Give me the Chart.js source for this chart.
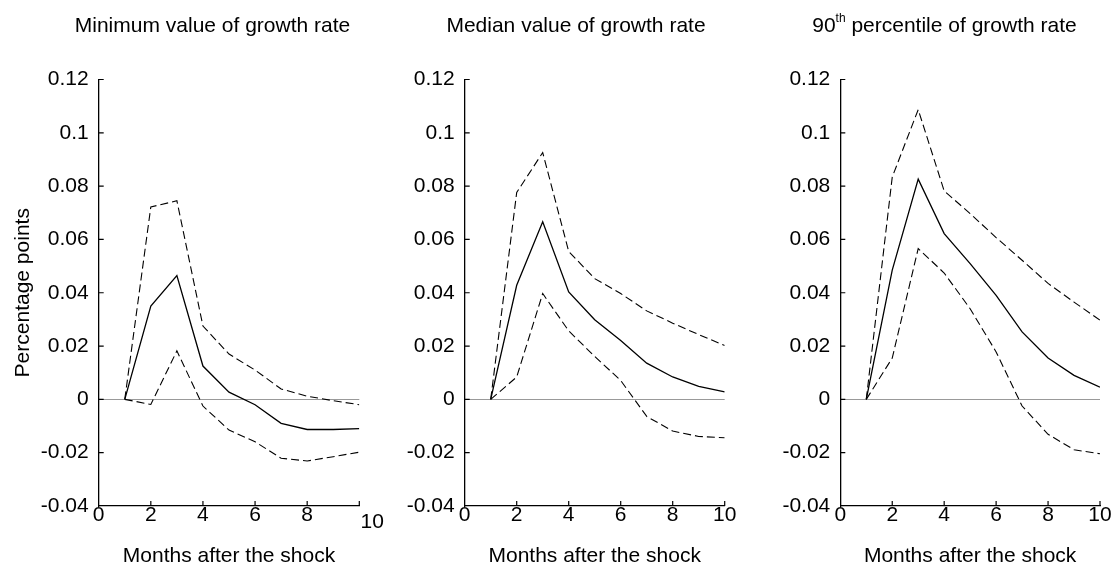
<!DOCTYPE html>
<html>
<head>
<meta charset="utf-8">
<script src="https://cdn.jsdelivr.net/npm/chart.js@4.4.1/dist/chart.umd.min.js"></script>
<style>
  html, body { margin: 0; padding: 0; background: #fff; }
  body { width: 1115px; height: 564px; position: relative; overflow: hidden; }
  .panel { position: absolute; top: 0; height: 564px; }
</style>
</head>
<body>
<div class="panel" style="left:0;width:392px"><canvas id="c1"></canvas></div>
<div class="panel" style="left:372px;width:372px"><canvas id="c2"></canvas></div>
<div class="panel" style="left:744px;width:371px"><canvas id="c3"></canvas></div>
<script>
// months after the shock and axis ticks
const months = [1, 2, 3, 4, 5, 6, 7, 8, 9, 10];
const xTicks = [0, 2, 4, 6, 8, 10];
const yTicks = [-0.04, -0.02, 0, 0.02, 0.04, 0.06, 0.08, 0.1, 0.12];
const yTickLabels = ['-0.04', '-0.02', '0', '0.02', '0.04', '0.06', '0.08', '0.1', '0.12'];

// Minimum value of growth rate
const minMid   = [0, 0.0350, 0.0464, 0.0125, 0.0027, -0.0020, -0.0090, -0.0113, -0.0113, -0.0110];
const minUpper = [0, 0.0722, 0.0745, 0.0275, 0.0170, 0.0110, 0.0039, 0.0012, -0.0005, -0.0020];
const minLower = [0, -0.0019, 0.0182, -0.0025, -0.0115, -0.0159, -0.0221, -0.0231, -0.0215, -0.0198];

// Median value of growth rate
const medMid   = [0, 0.0428, 0.0666, 0.0403, 0.0299, 0.0221, 0.0136, 0.0084, 0.0049, 0.0028];
const medUpper = [0, 0.0776, 0.0926, 0.0555, 0.0453, 0.0397, 0.0332, 0.0286, 0.0243, 0.0202];
const medLower = [0, 0.0084, 0.0397, 0.0257, 0.0161, 0.0071, -0.0064, -0.0119, -0.0139, -0.0144];

// 90th percentile of growth rate
const p90Mid   = [0, 0.0485, 0.0826, 0.0622, 0.0509, 0.0390, 0.0253, 0.0155, 0.0090, 0.0046];
const p90Upper = [0, 0.0834, 0.1087, 0.0782, 0.0697, 0.0607, 0.0522, 0.0435, 0.0365, 0.0297];
const p90Lower = [0, 0.0155, 0.0566, 0.0474, 0.0340, 0.0178, -0.0025, -0.0131, -0.0189, -0.0204];

const FONT = '"Liberation Sans", Arial, Helvetica, sans-serif';
Chart.defaults.font.family = FONT;
Chart.defaults.color = '#000';

// ticks drawn on the inside of the axes, plus a nudged last x label when asked
const innerTicks = {
  id: 'innerTicks',
  afterDraw(chart, args, o) {
    const {ctx, chartArea: a, scales: {x, y}} = chart;
    ctx.save();
    ctx.strokeStyle = '#000';
    ctx.lineWidth = 1.2;
    ctx.beginPath();
    x.ticks.forEach(t => {
      if (t.value === xTicks[0]) return;
      const px = x.getPixelForValue(t.value);
      ctx.moveTo(px, a.bottom);
      ctx.lineTo(px, a.bottom - 5);
    });
    y.ticks.forEach(t => {
      if (t.value === yTicks[0]) return;
      const py = y.getPixelForValue(t.value);
      ctx.moveTo(a.left, py);
      ctx.lineTo(a.left + 5, py);
    });
    ctx.stroke();
    if (o.lastShift) {
      const last = xTicks[xTicks.length - 1];
      ctx.font = '21px ' + FONT;
      ctx.fillStyle = '#000';
      ctx.textAlign = 'center';
      ctx.textBaseline = 'middle';
      ctx.fillText(String(last), x.getPixelForValue(last) + o.lastShift.dx, a.bottom + 9 + o.lastShift.dy);
    }
    ctx.restore();
  }
};

// panel title, with optional superscript pieces
const panelTitle = {
  id: 'panelTitle',
  afterDraw(chart, args, o) {
    if (!o.parts) return;
    const {ctx, chartArea: a} = chart;
    ctx.save();
    ctx.fillStyle = '#000';
    ctx.textBaseline = 'alphabetic';
    const big = '21px ' + FONT, small = '12px ' + FONT;
    let total = 0;
    const widths = o.parts.map(p => {
      ctx.font = p.sup ? small : big;
      const w = ctx.measureText(p.text).width;
      total += w;
      return w;
    });
    let x = (a.left + a.right) / 2 + o.shift - total / 2;
    o.parts.forEach((p, i) => {
      ctx.font = p.sup ? small : big;
      ctx.fillText(p.text, x, p.sup ? o.baseline - 10 : o.baseline);
      x += widths[i];
    });
    ctx.restore();
  }
};

function series(vals, dashed) {
  return {
    data: months.map((m, i) => ({x: m, y: vals[i]})),
    borderColor: '#000',
    borderWidth: dashed ? 1.1 : 1.3,
    borderDash: dashed ? [8, 4] : [],
    pointRadius: 0,
    tension: 0,
    fill: false
  };
}

function makePanel(id, parts, mid, upper, lower, opt) {
  return new Chart(document.getElementById(id), {
    type: 'line',
    data: { datasets: [series(upper, true), series(mid, false), series(lower, true)] },
    options: {
      responsive: true,
      maintainAspectRatio: false,
      animation: false,
      layout: { padding: { top: 79.5, bottom: 0, left: 0, right: opt.padRight } },
      plugins: {
        legend: { display: false },
        tooltip: { enabled: false },
        panelTitle: { parts: parts, shift: opt.titleShift, baseline: 32 },
        innerTicks: { lastShift: opt.lastShift || null }
      },
      scales: {
        x: {
          type: 'linear',
          min: 0, max: 10,
          afterBuildTicks: s => { s.ticks = xTicks.map(v => ({value: v})); },
          afterFit: s => { s.height = 58; },
          grid: { display: false, drawTicks: false },
          border: { display: true, color: '#000', width: 1.3 },
          ticks: {
            padding: 0,
            maxRotation: 0,
            font: { size: 21, lineHeight: 0.85 },
            callback: v => (opt.lastShift && v === xTicks[xTicks.length - 1]) ? '' : String(v)
          },
          title: {
            display: true,
            text: 'Months after the shock',
            font: { size: 21, lineHeight: 0.72 },
            padding: { top: 0, bottom: 0 }
          }
        },
        y: {
          min: yTicks[0], max: yTicks[yTicks.length - 1],
          afterBuildTicks: s => { s.ticks = yTicks.map(v => ({value: v})); },
          afterFit: s => { s.width = opt.yWidth; },
          grid: {
            drawTicks: false,
            lineWidth: 1,
            color: c => (c.tick && c.tick.value === 0 ? '#999' : 'rgba(0,0,0,0)')
          },
          border: { display: true, color: '#000', width: 1.3 },
          ticks: {
            padding: 10,
            font: { size: 21 },
            callback: v => yTickLabels[yTicks.indexOf(v)]
          },
          title: {
            display: !!opt.yTitle,
            text: 'Percentage points',
            font: { size: 21, lineHeight: 1.2 },
            padding: { top: 11, bottom: 0 }
          }
        }
      }
    },
    plugins: [innerTicks, panelTitle]
  });
}

makePanel('c1', [{text: 'Minimum value of growth rate'}], minMid, minUpper, minLower,
  {yWidth: 98.7, padRight: 32.7, titleShift: -16.5, yTitle: true, lastShift: {dx: 13, dy: 7}});
makePanel('c2', [{text: 'Median value of growth rate'}], medMid, medUpper, medLower,
  {yWidth: 92.7, padRight: 19.3, titleShift: -18.7});
makePanel('c3', [{text: '90'}, {text: 'th', sup: true}, {text: ' percentile of growth rate'}], p90Mid, p90Upper, p90Lower,
  {yWidth: 96.3, padRight: 15, titleShift: -25.7});
</script>
</body>
</html>
